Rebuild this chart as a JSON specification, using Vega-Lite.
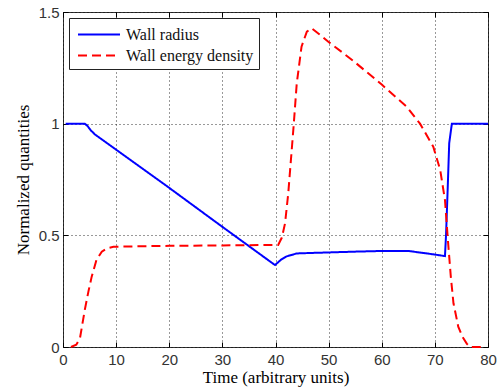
{
  "$schema": "https://vega.github.io/schema/vega-lite/v6.json",
  "width": 425,
  "height": 335,
  "autosize": "none",
  "padding": {"left": 63, "top": 12, "right": 12, "bottom": 45},
  "background": "white",
  "config": {
    "font": "Liberation Serif",
    "view": {"stroke": "#333", "strokeWidth": 1},
    "axis": {
      "labelFont": "Liberation Sans",
      "labelFontSize": 15,
      "labelColor": "#333",
      "titleFont": "Liberation Serif",
      "titleFontSize": 17,
      "titleFontWeight": "normal",
      "titleColor": "#000",
      "domain": false,
      "tickColor": "#000",
      "tickSize": -5,
      "gridColor": "#000",
      "gridDash": [1, 3],
      "gridOpacity": 0.8
    },
    "legend": {
      "labelFont": "Liberation Serif",
      "labelFontSize": 16,
      "labelColor": "#111",
      "labelLimit": 300
    }
  },
  "data": {
    "values": [
      {"t": 0.5, "v": 1.0, "series": "Wall radius"},
      {"t": 4.1, "v": 1.0, "series": "Wall radius"},
      {"t": 4.6, "v": 0.99, "series": "Wall radius"},
      {"t": 5.2, "v": 0.971, "series": "Wall radius"},
      {"t": 6.0, "v": 0.952, "series": "Wall radius"},
      {"t": 19.8, "v": 0.716, "series": "Wall radius"},
      {"t": 29.6, "v": 0.545, "series": "Wall radius"},
      {"t": 39.9, "v": 0.367, "series": "Wall radius"},
      {"t": 41.0, "v": 0.39, "series": "Wall radius"},
      {"t": 42.0, "v": 0.405, "series": "Wall radius"},
      {"t": 44.0, "v": 0.419, "series": "Wall radius"},
      {"t": 48.0, "v": 0.422, "series": "Wall radius"},
      {"t": 55.0, "v": 0.427, "series": "Wall radius"},
      {"t": 60.0, "v": 0.43, "series": "Wall radius"},
      {"t": 65.0, "v": 0.43, "series": "Wall radius"},
      {"t": 69.7, "v": 0.415, "series": "Wall radius"},
      {"t": 71.9, "v": 0.407, "series": "Wall radius"},
      {"t": 72.1, "v": 0.5, "series": "Wall radius"},
      {"t": 72.4, "v": 0.7, "series": "Wall radius"},
      {"t": 72.7, "v": 0.913, "series": "Wall radius"},
      {"t": 73.2, "v": 1.0, "series": "Wall radius"},
      {"t": 80.0, "v": 1.0, "series": "Wall radius"},
      {"t": 1.5, "v": 0.0, "series": "Wall energy density"},
      {"t": 2.5, "v": 0.01, "series": "Wall energy density"},
      {"t": 3.2, "v": 0.04, "series": "Wall energy density"},
      {"t": 4.1, "v": 0.166, "series": "Wall energy density"},
      {"t": 4.8, "v": 0.25, "series": "Wall energy density"},
      {"t": 5.4, "v": 0.315, "series": "Wall energy density"},
      {"t": 6.3, "v": 0.39, "series": "Wall energy density"},
      {"t": 7.3, "v": 0.427, "series": "Wall energy density"},
      {"t": 8.3, "v": 0.442, "series": "Wall energy density"},
      {"t": 9.5, "v": 0.449, "series": "Wall energy density"},
      {"t": 20.0, "v": 0.453, "series": "Wall energy density"},
      {"t": 30.0, "v": 0.455, "series": "Wall energy density"},
      {"t": 40.5, "v": 0.457, "series": "Wall energy density"},
      {"t": 41.2, "v": 0.49, "series": "Wall energy density"},
      {"t": 41.8, "v": 0.554, "series": "Wall energy density"},
      {"t": 42.4, "v": 0.688, "series": "Wall energy density"},
      {"t": 43.4, "v": 0.986, "series": "Wall energy density"},
      {"t": 44.0, "v": 1.18, "series": "Wall energy density"},
      {"t": 44.9, "v": 1.345, "series": "Wall energy density"},
      {"t": 45.9, "v": 1.412, "series": "Wall energy density"},
      {"t": 46.8, "v": 1.427, "series": "Wall energy density"},
      {"t": 48.0, "v": 1.405, "series": "Wall energy density"},
      {"t": 50.0, "v": 1.366, "series": "Wall energy density"},
      {"t": 54.6, "v": 1.282, "series": "Wall energy density"},
      {"t": 60.0, "v": 1.175, "series": "Wall energy density"},
      {"t": 64.7, "v": 1.076, "series": "Wall energy density"},
      {"t": 67.2, "v": 1.0, "series": "Wall energy density"},
      {"t": 69.7, "v": 0.897, "series": "Wall energy density"},
      {"t": 71.0, "v": 0.793, "series": "Wall energy density"},
      {"t": 71.9, "v": 0.658, "series": "Wall energy density"},
      {"t": 72.5, "v": 0.464, "series": "Wall energy density"},
      {"t": 73.0, "v": 0.315, "series": "Wall energy density"},
      {"t": 73.5, "v": 0.196, "series": "Wall energy density"},
      {"t": 74.4, "v": 0.091, "series": "Wall energy density"},
      {"t": 75.2, "v": 0.045, "series": "Wall energy density"},
      {"t": 76.0, "v": 0.015, "series": "Wall energy density"},
      {"t": 76.6, "v": 0.0, "series": "Wall energy density"},
      {"t": 79.1, "v": 0.0, "series": "Wall energy density"}
    ]
  },
  "resolve": {"axis": {"x": "independent", "y": "independent"}},
  "layer": [
    {
      "mark": {"type": "line", "strokeWidth": 2, "interpolate": "linear"},
      "encoding": {
        "x": {
          "field": "t", "type": "quantitative",
          "scale": {"domain": [0, 80], "nice": false, "zero": false},
          "axis": {"orient": "bottom", "values": [0, 10, 20, 30, 40, 50, 60, 70, 80], "grid": true, "title": "Time (arbitrary units)", "labelPadding": 10, "titlePadding": 2, "labelFlush": false}
        },
        "y": {
          "field": "v", "type": "quantitative",
          "scale": {"domain": [0, 1.5], "nice": false, "zero": false},
          "axis": {"orient": "left", "values": [0, 0.5, 1, 1.5], "format": "~g", "grid": true, "title": "Normalized quantities", "labelPadding": 9, "titlePadding": 6, "labelFlush": false}
        },
        "color": {
          "field": "series", "type": "nominal",
          "scale": {"domain": ["Wall radius", "Wall energy density"], "range": ["#0000ff", "#ff0000"]},
          "legend": {
            "title": null, "orient": "none", "legendX": 6, "legendY": 6,
            "direction": "vertical",
            "strokeColor": "#222", "fillColor": "#fff", "padding": 5,
            "symbolType": "M-1,0H3", "symbolSize": 441, "symbolStrokeWidth": 2, "symbolOffset": 3,
            "labelFont": "Liberation Serif", "labelFontSize": 16,
            "labelOffset": 26, "rowPadding": 1,
            "encode": {"labels": {"update": {"font": {"value": "Liberation Serif"}, "fontSize": {"value": 16}, "fill": {"value": "#111"}}}}
          }
        },
        "strokeDash": {
          "field": "series", "type": "nominal",
          "scale": {"domain": ["Wall radius", "Wall energy density"], "range": [[1, 0], [9, 5]]},
          "legend": {
            "title": null, "orient": "none", "legendX": 6, "legendY": 6,
            "direction": "vertical",
            "strokeColor": "#222", "fillColor": "#fff", "padding": 5,
            "symbolType": "M-1,0H3", "symbolSize": 441, "symbolStrokeWidth": 2, "symbolOffset": 3,
            "labelFont": "Liberation Serif", "labelFontSize": 16,
            "labelOffset": 26, "rowPadding": 1,
            "encode": {"labels": {"update": {"font": {"value": "Liberation Serif"}, "fontSize": {"value": 16}, "fill": {"value": "#111"}}}}
          }
        }
      }
    },
    {
      "mark": {"type": "line", "opacity": 0},
      "encoding": {
        "x": {
          "field": "t", "type": "quantitative",
          "axis": {"orient": "top", "values": [0, 10, 20, 30, 40, 50, 60, 70, 80], "labels": false, "grid": false, "title": null}
        },
        "y": {
          "field": "v", "type": "quantitative",
          "axis": {"orient": "right", "values": [0, 0.5, 1, 1.5], "labels": false, "grid": false, "title": null}
        }
      }
    }
  ]
}
